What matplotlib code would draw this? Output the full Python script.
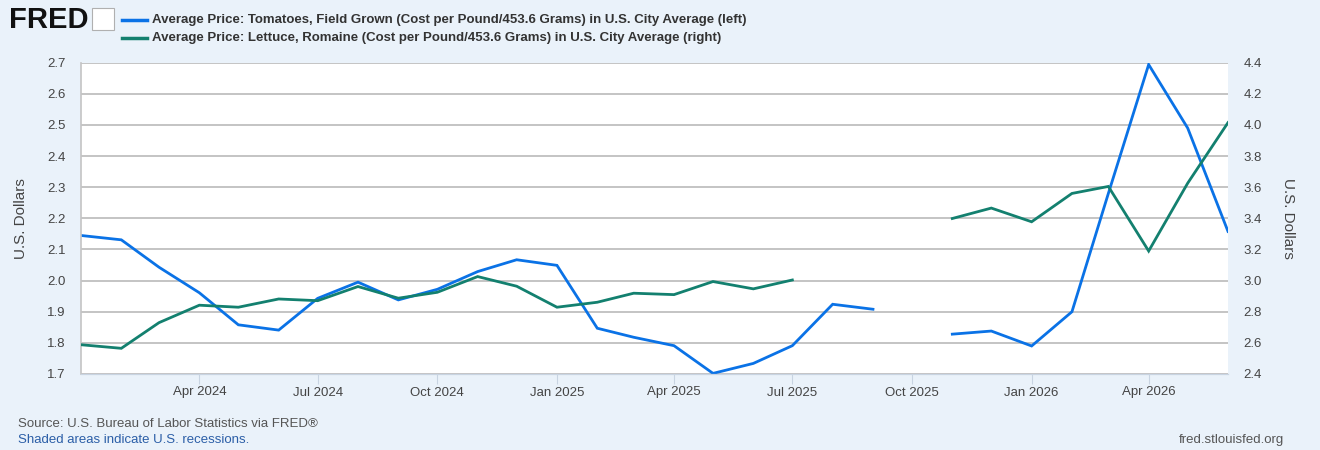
import numpy as np
import pandas as pd
import matplotlib
matplotlib.use("Agg")
import matplotlib.pyplot as plt
import matplotlib.dates as mdates
from matplotlib.patches import Rectangle

# Datos mensuales, ene 2024 - jun 2026 (NaN = sin dato)
fechas = pd.date_range("2024-01-01", "2026-06-01", freq="MS")

tomates = [2.145, 2.131, 2.043, 1.961, 1.858, 1.841, 1.943, 1.995, 1.938, 1.972,
           2.029, 2.067, 2.049, 1.847, 1.818, 1.791, 1.702, 1.734, 1.791, 1.924,
           1.908, np.nan, 1.828, 1.838, 1.790, 1.900, 2.280, 2.694, 2.490, 2.158]

lechuga = [2.588, 2.565, 2.730, 2.842, 2.829, 2.882, 2.871, 2.962, 2.887, 2.925,
           3.026, 2.964, 2.829, 2.861, 2.919, 2.910, 2.994, 2.947, 3.004, np.nan,
           np.nan, np.nan, 3.399, 3.466, 3.378, 3.560, 3.605, 3.190, 3.626, 4.015]

etiqueta_tom = "Average Price: Tomatoes, Field Grown (Cost per Pound/453.6 Grams) in U.S. City Average (left)"
etiqueta_lec = "Average Price: Lettuce, Romaine (Cost per Pound/453.6 Grams) in U.S. City Average (right)"

ticks_x = pd.date_range("2024-04-01", "2026-04-01", freq="3MS")
ticks_izq = [1.7, 1.8, 1.9, 2.0, 2.1, 2.2, 2.3, 2.4, 2.5, 2.6, 2.7]
ticks_der = [2.4, 2.6, 2.8, 3.0, 3.2, 3.4, 3.6, 3.8, 4.0, 4.2, 4.4]

azul = "#0a72e6"
verde = "#13806f"
fondo = "#eaf2fa"
gris_texto = "#444444"

plt.rcParams["font.family"] = ["Liberation Sans", "DejaVu Sans"]

fig = plt.figure(figsize=(13.2, 4.5), dpi=100, facecolor=fondo)
ax = fig.add_axes([81 / 1320, 1 - 374 / 450, (1228 - 81) / 1320, (374 - 62.7) / 450])
ax.set_facecolor("white")

ax.plot(fechas, tomates, color=azul, lw=2.0, solid_joinstyle="miter")
ax.set_ylim(1.7, 2.7)
ax.set_yticks(ticks_izq)
ax.set_yticklabels([f"{v:.1f}" for v in ticks_izq])
ax.set_xlim(fechas[0], fechas[-1])
ax.grid(axis="y", color="#c4c4c4", lw=1.4)
ax.set_axisbelow(True)

ax2 = ax.twinx()
ax2.plot(fechas, lechuga, color=verde, lw=2.0, solid_joinstyle="miter")
ax2.set_ylim(2.4, 4.4)
ax2.set_yticks(ticks_der)
ax2.set_yticklabels([f"{v:.1f}" for v in ticks_der])

for a in (ax, ax2):
    for lado in ("top", "right"):
        a.spines[lado].set_visible(False)
    a.spines["left"].set_visible(False)
    a.spines["bottom"].set_color("#c8d4e2")
    a.tick_params(axis="y", length=0, labelsize=9.5, labelcolor=gris_texto, pad=11)
ax.spines["left"].set_visible(True)
ax.spines["left"].set_color("#c4c4c4")
ax.spines["left"].set_linewidth(1.2)

ax.set_xticks(ticks_x)
ax.xaxis.set_major_formatter(mdates.DateFormatter("%b %Y"))
ax.tick_params(axis="x", length=7, color="#c8d4e2", labelsize=9.5,
               labelcolor=gris_texto, pad=2)

ax.set_ylabel("U.S. Dollars", fontsize=11, color=gris_texto, labelpad=14)
ax2.set_ylabel("U.S. Dollars", fontsize=11, color=gris_texto, rotation=270,
               labelpad=24)

# Cabecera estilo FRED
fig.text(9 / 1320, 1 - 20 / 450, "FRED", fontsize=21, fontweight="bold",
         color="#111111", va="center", ha="left")
fig.patches.append(Rectangle((92 / 1320, 1 - 30 / 450), 22 / 1320, 22 / 450,
                             transform=fig.transFigure, facecolor="white",
                             edgecolor="#b0b0b0", lw=0.8))

fig.lines.append(plt.Line2D([122 / 1320, 147 / 1320], [1 - 20 / 450] * 2,
                            transform=fig.transFigure, color=azul, lw=2.5))
fig.lines.append(plt.Line2D([122 / 1320, 147 / 1320], [1 - 38 / 450] * 2,
                            transform=fig.transFigure, color=verde, lw=2.5))
fig.text(152 / 1320, 1 - 20 / 450, etiqueta_tom, fontsize=9.5, fontweight="bold",
         color="#333333", va="center", ha="left")
fig.text(152 / 1320, 1 - 38 / 450, etiqueta_lec, fontsize=9.5, fontweight="bold",
         color="#333333", va="center", ha="left")

# Pie
fig.text(18 / 1320, 1 - 424 / 450, "Source: U.S. Bureau of Labor Statistics via FRED®",
         fontsize=9.5, color="#555555", va="center", ha="left")
fig.text(18 / 1320, 1 - 440 / 450, "Shaded areas indicate U.S. recessions.",
         fontsize=9.5, color="#2b5ea7", va="center", ha="left")
fig.text(1284 / 1320, 1 - 440 / 450, "fred.stlouisfed.org",
         fontsize=9.5, color="#555555", va="center", ha="right")

fig.savefig("out.png", dpi=100, facecolor=fondo)
